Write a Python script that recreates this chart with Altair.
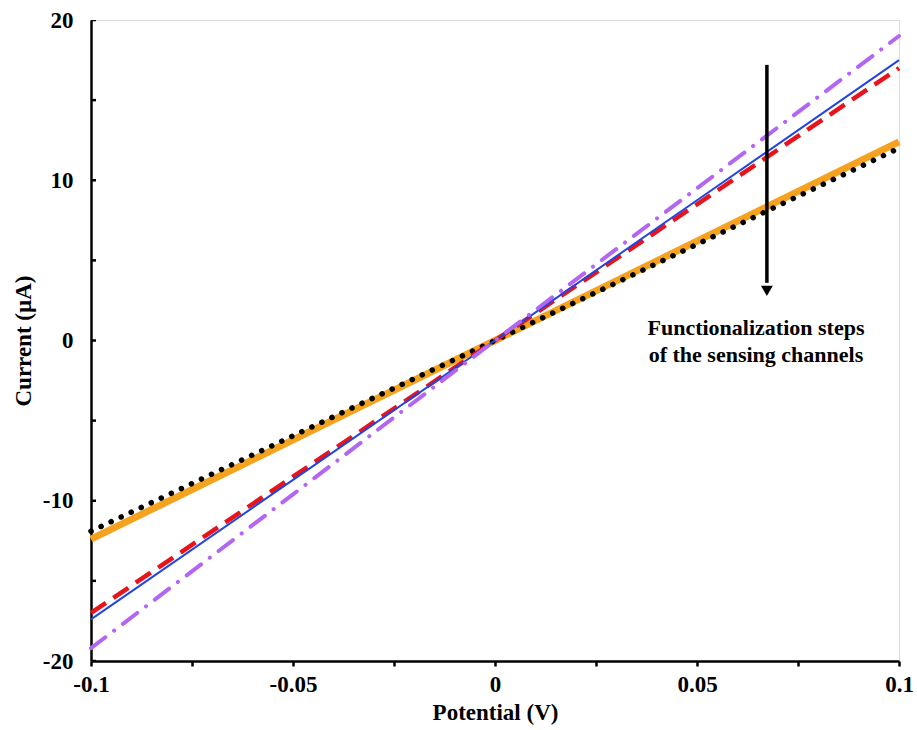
import altair as alt
import pandas as pd

potential = [-0.1, -0.05, 0.0, 0.05, 0.1]
orange_vals = [-12.4, -6.2, 0.0, 6.2, 12.4]
black_vals = [-11.9, -5.95, 0.0, 6.0, 12.0]
red_vals = [-17.0, -8.5, 0.0, 8.5, 17.0]
blue_vals = [-17.4, -8.7, 0.0, 8.75, 17.5]
purple_vals = [-19.2, -9.6, 0.0, 9.5, 19.0]

series_names = ["orange", "black", "red", "blue", "purple"]
series_vals = [orange_vals, black_vals, red_vals, blue_vals, purple_vals]

x_tick_values = [-0.1, -0.075, -0.05, -0.025, 0, 0.025, 0.05, 0.075, 0.1]
y_label_values = [-20, -10, 0, 10, 20]
y_tick_values = [-20, -15, -10, -5, 0, 5, 10, 15, 20]

rows = []
for name, vals in zip(series_names, series_vals):
    for x, y in zip(potential, vals):
        rows.append({"series": name, "potential": x, "current": y})
df = pd.DataFrame(rows)

arrow_x = [0.0673]
arrow_top = [17.2]
arrow_bottom = [3.6]
arrow_tip = [3.1]
label_x = [0.0646]
label_y = [0.0]
label_text = ["Functionalization steps\nof the sensing channels"]

FONT = "Liberation Serif"
FS = 23

x_scale = alt.Scale(domain=[-0.1, 0.1], nice=False)
y_scale = alt.Scale(domain=[-20, 20], nice=False)

x_axis = alt.Axis(
    title="Potential (V)",
    values=x_tick_values,
    labelExpr="(abs(datum.value*1000) % 50 < 1) ? replace(format(datum.value, '~g'), '\u2212', '-') : ''",
    labelFont=FONT, labelFontSize=FS, labelFontWeight="bold", labelColor="black",
    titleFont=FONT, titleFontSize=FS, titleFontWeight="bold", titleColor="black",
    labelPadding=7, titlePadding=5,
    tickSize=5, tickWidth=2.5, tickColor="black",
    domainColor="black", domainWidth=2.5, grid=False,
    labelFlush=False,
)
y_axis = alt.Axis(
    title="Current (µA)",
    values=y_label_values,
    labelExpr="replace(datum.label, '\u2212', '-')",
    labelFont=FONT, labelFontSize=FS, labelFontWeight="bold", labelColor="black",
    titleFont=FONT, titleFontSize=FS, titleFontWeight="bold", titleColor="black",
    labelPadding=18, titlePadding=7,
    tickSize=0, tickWidth=0,
    domainColor="black", domainWidth=2.5, grid=False,
    labelFlush=False,
)

x_enc = alt.X("potential:Q", scale=x_scale, axis=x_axis)
y_enc = alt.Y("current:Q", scale=y_scale, axis=y_axis)

base = alt.Chart(df)

def series_line(name, **kw):
    return base.transform_filter(alt.datum.series == name).mark_line(**kw).encode(x=x_enc, y=y_enc)

orange = series_line("orange", color="#F5A21E", strokeWidth=7)
black = series_line("black", color="black", strokeWidth=5.5, strokeDash=[0.1, 11], strokeCap="round")
red = series_line("red", color="#E8141C", strokeWidth=4.5, strokeDash=[18, 9])
blue = series_line("blue", color="#2145E0", strokeWidth=2)
purple = series_line("purple", color="#B266F2", strokeWidth=4, strokeDash=[18, 11, 0.1, 11], strokeCap="round")

# inward y ticks (clipped to the plot area so only the inner half shows)
ytick_df = pd.DataFrame({"potential": [-0.1] * len(y_tick_values), "current": y_tick_values})
yticks = alt.Chart(ytick_df).mark_tick(
    orient="horizontal", size=10, thickness=2.5, color="black", clip=True, opacity=1
).encode(x=x_enc, y=y_enc)

arrow_df = pd.DataFrame({"potential": arrow_x, "current": arrow_top, "bottom": arrow_bottom})
arrow_rule = alt.Chart(arrow_df).mark_rule(color="black", strokeWidth=3.5).encode(
    x=x_enc, y=y_enc, y2="bottom:Q"
)
head_df = pd.DataFrame({"potential": arrow_x, "current": arrow_tip})
arrow_head = alt.Chart(head_df).mark_point(
    shape="triangle-down", filled=True, color="black", size=140, opacity=1
).encode(x=x_enc, y=y_enc)

text_df = pd.DataFrame({"potential": label_x, "current": label_y, "t": label_text})
label = alt.Chart(text_df).mark_text(
    font=FONT, fontSize=22, fontWeight="bold", color="black", align="center",
    baseline="middle", lineBreak="\n", lineHeight=27, dy=-13,
).encode(x=x_enc, y=y_enc, text="t:N")

chart = alt.layer(orange, black, red, blue, purple, yticks, arrow_rule, arrow_head, label).properties(
    width=808, height=641,
    autosize=alt.AutoSizeParams(type="none"),
    padding={"left": 91, "top": 20, "right": 18, "bottom": 69},
).configure_view(stroke="black", strokeWidth=2.5).configure(background="white")

chart.save("out.html", embed_options={"renderer": "svg", "actions": False})
